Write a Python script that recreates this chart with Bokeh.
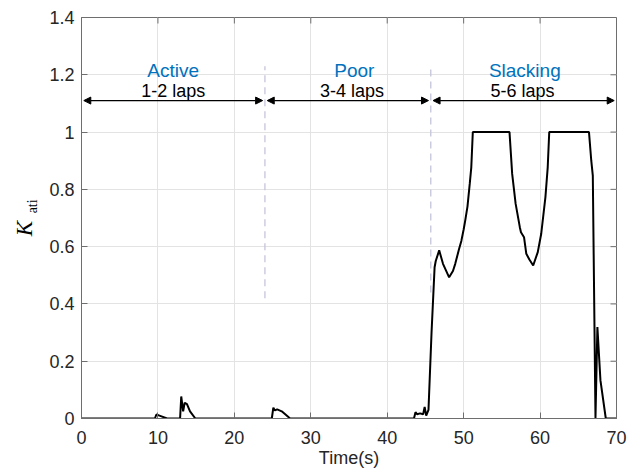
import math
from bokeh.plotting import figure
from bokeh.layouts import row
from bokeh.models import (ColumnDataSource, FixedTicker, Arrow, NormalHead, Range1d)
from bokeh.core.properties import value
from bokeh.embed import file_html
from bokeh.resources import INLINE

# ---- data ----
time_s = [0, 9.6, 9.8, 10.2, 11.2, 12.9, 13.05, 13.3, 13.5, 13.8, 14.2, 14.9,
          24.9, 25.1, 25.3, 25.6, 26.2, 27.3,
          43.5, 43.7, 43.9, 44.3, 44.7, 44.9, 45.1, 45.4, 45.8, 46.2, 46.35, 46.8,
          47.3, 48.1, 48.6, 48.9, 49.4, 49.7, 50.0, 50.2, 50.5, 50.8, 51.0, 51.2,
          56.0, 56.35, 56.8, 57.35, 57.5, 57.9, 58.2, 58.6, 59.1, 59.7, 60.15,
          60.7, 61.0, 61.2, 66.4, 66.7, 66.9, 67.25, 67.5, 67.9, 68.6, 70]
k_ati = [0, 0, 0.014, 0.01, 0, 0, 0.077, 0.025, 0.055, 0.05, 0.025, 0,
         0, 0.038, 0.028, 0.032, 0.025, 0,
         0, 0.022, 0.015, 0.018, 0.015, 0.04, 0.01, 0.03, 0.3, 0.528, 0.55, 0.587,
         0.54, 0.493, 0.515, 0.54, 0.592, 0.62, 0.66, 0.69, 0.74, 0.82, 0.877, 1.0,
         1.0, 0.854, 0.75, 0.668, 0.65, 0.633, 0.575, 0.555, 0.534, 0.581, 0.645,
         0.773, 0.877, 1.0, 1.0, 0.9, 0.848, 0, 0.319, 0.133, 0, 0]

boundaries = [0, 24, 45.7, 70]
region_names = ["Active", "Poor", "Slacking"]
region_name_x = [12, 35.7, 58.0]
region_laps = ["1-2 laps", "3-4 laps", "5-6 laps"]
region_laps_x = [12, 35.4, 57.7]
x_ticks = [0, 10, 20, 30, 40, 50, 60, 70]
y_ticks = [0, 0.2, 0.4, 0.6, 0.8, 1, 1.2, 1.4]
y_tick_labels = ["0", "0.2", "0.4", "0.6", "0.8", "1", "1.2", "1.4"]
y_label_main = "K"
y_label_sub = "ati"

FONT = "Liberation Sans"
AX_COL = "#6e6e6e"
TXT_COL = "#262626"
LBL_W = 45

# ---- y-label strip (K with subscript "ati") ----
lab = figure(width=LBL_W, height=475, output_backend="svg", toolbar_location=None,
             x_range=Range1d(0, LBL_W), y_range=Range1d(0, 475),
             x_axis_type=None, y_axis_type=None,
             min_border=0, min_border_left=0, min_border_right=0,
             min_border_top=0, min_border_bottom=0)
lab.outline_line_color = None
lab.grid.visible = False
lab.text(x=[23.5], y=[216], text=[y_label_main], angle=math.pi / 2,
         text_font=value("Liberation Serif"), text_font_style="italic",
         text_font_size="23px", text_color="black",
         text_align="left", text_baseline="middle")
lab.text(x=[32], y=[243], text=[y_label_sub], angle=math.pi / 2,
         text_font=value("Liberation Serif"), text_font_size="14px",
         text_color="black", text_align="left", text_baseline="middle")

# ---- main plot ----
p = figure(width=638 - LBL_W, height=475, output_backend="svg", toolbar_location=None,
           x_range=Range1d(0, 70), y_range=Range1d(0, 1.4),
           min_border_left=81 - LBL_W, min_border_right=22, min_border_top=17,
           min_border_bottom=57, x_axis_label="Time(s)")
p.outline_line_color = AX_COL
p.background_fill_color = "white"
p.border_fill_color = "white"

p.xgrid.grid_line_color = "#e3e3e3"
p.ygrid.grid_line_color = "#e3e3e3"
p.xaxis.ticker = FixedTicker(ticks=x_ticks)
p.yaxis.ticker = FixedTicker(ticks=y_ticks)
p.yaxis.major_label_overrides = {t: l for t, l in zip(y_ticks, y_tick_labels)}

for ax in (p.xaxis[0], p.yaxis[0]):
    ax.axis_line_color = AX_COL
    ax.major_tick_line_color = AX_COL
    ax.major_tick_in = 6
    ax.major_tick_out = 0
    ax.minor_tick_line_color = None
    ax.major_label_text_font = FONT
    ax.major_label_text_font_size = "18px"
    ax.major_label_text_color = TXT_COL
    ax.axis_label_text_font = FONT
    ax.axis_label_text_font_size = "18px"
    ax.axis_label_text_font_style = "normal"
    ax.axis_label_text_color = TXT_COL
p.xaxis.major_label_standoff = 12
p.xaxis.axis_label_standoff = 1
p.yaxis.major_label_standoff = 7

# inward ticks on the top and right edges of the box (6 px long)
tick_dx = 6 * 70 / 535
tick_dy = 6 * 1.4 / 401
p.segment(x0=[70] * len(y_ticks), y0=y_ticks, x1=[70 - tick_dx] * len(y_ticks), y1=y_ticks,
          line_color=AX_COL, line_width=1)
p.segment(x0=x_ticks, y0=[1.4] * len(x_ticks), x1=x_ticks, y1=[1.4 - tick_dy] * len(x_ticks),
          line_color=AX_COL, line_width=1)

# dashed separators
sep_x = boundaries[1:3]
p.segment(x0=sep_x, y0=[0.42, 0.44], x1=sep_x, y1=[1.23, 1.23],
          line_color="#c4c4dc", line_width=1.3, line_dash="7 5")

# arrows
for a, b in zip(boundaries[:-1], boundaries[1:]):
    p.add_layout(Arrow(x_start=a + 0.3, y_start=1.11, x_end=b - 0.3, y_end=1.11,
                       line_color="black", line_width=1.2,
                       start=NormalHead(size=7, fill_color="black", line_color="black"),
                       end=NormalHead(size=7, fill_color="black", line_color="black")))

src_n = ColumnDataSource(dict(x=region_name_x, y=[1.216] * 3, text=region_names))
p.text(x="x", y="y", text="text", source=src_n, text_font=value(FONT),
       text_font_size="19px", text_color="#0072BD", text_align="center",
       text_baseline="alphabetic")
src_l = ColumnDataSource(dict(x=region_laps_x, y=[1.143] * 3, text=region_laps))
p.text(x="x", y="y", text="text", source=src_l, text_font=value(FONT),
       text_font_size="18px", text_color="black", text_align="center",
       text_baseline="alphabetic")

# curve
p.line(time_s, k_ati, line_color="black", line_width=2)

layout = row(lab, p, spacing=0)
open("out.html", "w").write(file_html(layout, INLINE))
